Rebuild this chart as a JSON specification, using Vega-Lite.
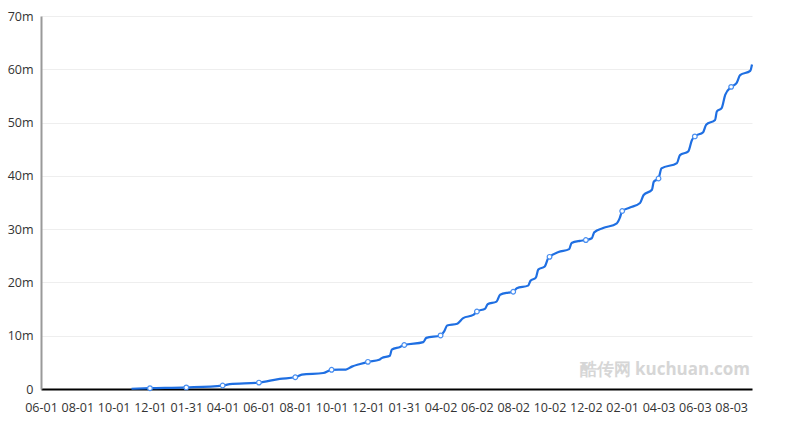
{
  "$schema": "https://vega.github.io/schema/vega-lite/v6.json",
  "autosize": {"type": "none"},
  "width": 711,
  "height": 373,
  "padding": {"left": 41, "top": 16, "right": 49, "bottom": 45},
  "background": "white",
  "config": {"view": {"stroke": null}},
  "datasets": {
    "series": [
      {"date": "2015-10-31", "downloads": 50000},
      {"date": "2015-12-01", "downloads": 150000},
      {"date": "2016-01-31", "downloads": 300000},
      {"date": "2016-04-01", "downloads": 650000},
      {"date": "2016-04-13", "downloads": 900000},
      {"date": "2016-06-01", "downloads": 1200000},
      {"date": "2016-07-06", "downloads": 1900000},
      {"date": "2016-08-01", "downloads": 2200000},
      {"date": "2016-08-12", "downloads": 2700000},
      {"date": "2016-09-17", "downloads": 3000000},
      {"date": "2016-10-01", "downloads": 3600000},
      {"date": "2016-10-25", "downloads": 3650000},
      {"date": "2016-11-04", "downloads": 4200000},
      {"date": "2016-11-18", "downloads": 4700000},
      {"date": "2016-12-01", "downloads": 5100000},
      {"date": "2016-12-20", "downloads": 5500000},
      {"date": "2016-12-24", "downloads": 5800000},
      {"date": "2017-01-07", "downloads": 6250000},
      {"date": "2017-01-10", "downloads": 7400000},
      {"date": "2017-01-24", "downloads": 7900000},
      {"date": "2017-01-31", "downloads": 8250000},
      {"date": "2017-03-04", "downloads": 8800000},
      {"date": "2017-03-09", "downloads": 9600000},
      {"date": "2017-04-02", "downloads": 10050000},
      {"date": "2017-04-08", "downloads": 10800000},
      {"date": "2017-04-13", "downloads": 11900000},
      {"date": "2017-04-30", "downloads": 12250000},
      {"date": "2017-05-10", "downloads": 13300000},
      {"date": "2017-05-27", "downloads": 13900000},
      {"date": "2017-06-02", "downloads": 14550000},
      {"date": "2017-06-16", "downloads": 15100000},
      {"date": "2017-06-20", "downloads": 15900000},
      {"date": "2017-07-05", "downloads": 16400000},
      {"date": "2017-07-11", "downloads": 17700000},
      {"date": "2017-07-25", "downloads": 18100000},
      {"date": "2017-08-02", "downloads": 18250000},
      {"date": "2017-08-08", "downloads": 18900000},
      {"date": "2017-08-27", "downloads": 19400000},
      {"date": "2017-08-31", "downloads": 20300000},
      {"date": "2017-09-09", "downloads": 20900000},
      {"date": "2017-09-13", "downloads": 22400000},
      {"date": "2017-09-24", "downloads": 23000000},
      {"date": "2017-09-30", "downloads": 24600000},
      {"date": "2017-10-02", "downloads": 24800000},
      {"date": "2017-10-17", "downloads": 25700000},
      {"date": "2017-11-04", "downloads": 26250000},
      {"date": "2017-11-08", "downloads": 27400000},
      {"date": "2017-11-22", "downloads": 27800000},
      {"date": "2017-12-02", "downloads": 27950000},
      {"date": "2017-12-12", "downloads": 28300000},
      {"date": "2017-12-16", "downloads": 29400000},
      {"date": "2017-12-31", "downloads": 30200000},
      {"date": "2018-01-23", "downloads": 31100000},
      {"date": "2018-01-28", "downloads": 32100000},
      {"date": "2018-02-01", "downloads": 33400000},
      {"date": "2018-02-14", "downloads": 34050000},
      {"date": "2018-03-03", "downloads": 34900000},
      {"date": "2018-03-09", "downloads": 36400000},
      {"date": "2018-03-23", "downloads": 37400000},
      {"date": "2018-03-26", "downloads": 38900000},
      {"date": "2018-04-03", "downloads": 39500000},
      {"date": "2018-04-08", "downloads": 41400000},
      {"date": "2018-05-04", "downloads": 42400000},
      {"date": "2018-05-09", "downloads": 43900000},
      {"date": "2018-05-23", "downloads": 44600000},
      {"date": "2018-05-29", "downloads": 46700000},
      {"date": "2018-06-03", "downloads": 47400000},
      {"date": "2018-06-17", "downloads": 48200000},
      {"date": "2018-06-22", "downloads": 49600000},
      {"date": "2018-07-07", "downloads": 50500000},
      {"date": "2018-07-10", "downloads": 52100000},
      {"date": "2018-07-18", "downloads": 52700000},
      {"date": "2018-07-24", "downloads": 55200000},
      {"date": "2018-08-03", "downloads": 56700000},
      {"date": "2018-08-12", "downloads": 57400000},
      {"date": "2018-08-18", "downloads": 58900000},
      {"date": "2018-09-04", "downloads": 59700000},
      {"date": "2018-09-07", "downloads": 60900000}
    ],
    "markers": [
      {"date": "2015-12-01", "downloads": 150000},
      {"date": "2016-01-31", "downloads": 300000},
      {"date": "2016-04-01", "downloads": 650000},
      {"date": "2016-06-01", "downloads": 1200000},
      {"date": "2016-08-01", "downloads": 2200000},
      {"date": "2016-10-01", "downloads": 3600000},
      {"date": "2016-12-01", "downloads": 5100000},
      {"date": "2017-01-31", "downloads": 8250000},
      {"date": "2017-04-02", "downloads": 10050000},
      {"date": "2017-06-02", "downloads": 14550000},
      {"date": "2017-08-02", "downloads": 18250000},
      {"date": "2017-10-02", "downloads": 24800000},
      {"date": "2017-12-02", "downloads": 27950000},
      {"date": "2018-02-01", "downloads": 33400000},
      {"date": "2018-04-03", "downloads": 39500000},
      {"date": "2018-06-03", "downloads": 47400000},
      {"date": "2018-08-03", "downloads": 56700000}
    ]
  },
  "encoding": {
    "x": {
      "field": "date",
      "type": "temporal",
      "scale": {"type": "utc", "domain": [{"year": 2015, "month": 6, "date": 1, "utc": true}, {"year": 2018, "month": 9, "date": 7, "utc": true}]},
      "axis": {
        "title": null,
        "values": [
          {"year": 2015, "month": 6, "date": 1, "utc": true},
          {"year": 2015, "month": 8, "date": 1, "utc": true},
          {"year": 2015, "month": 10, "date": 1, "utc": true},
          {"year": 2015, "month": 12, "date": 1, "utc": true},
          {"year": 2016, "month": 1, "date": 31, "utc": true},
          {"year": 2016, "month": 4, "date": 1, "utc": true},
          {"year": 2016, "month": 6, "date": 1, "utc": true},
          {"year": 2016, "month": 8, "date": 1, "utc": true},
          {"year": 2016, "month": 10, "date": 1, "utc": true},
          {"year": 2016, "month": 12, "date": 1, "utc": true},
          {"year": 2017, "month": 1, "date": 31, "utc": true},
          {"year": 2017, "month": 4, "date": 2, "utc": true},
          {"year": 2017, "month": 6, "date": 2, "utc": true},
          {"year": 2017, "month": 8, "date": 2, "utc": true},
          {"year": 2017, "month": 10, "date": 2, "utc": true},
          {"year": 2017, "month": 12, "date": 2, "utc": true},
          {"year": 2018, "month": 2, "date": 1, "utc": true},
          {"year": 2018, "month": 4, "date": 3, "utc": true},
          {"year": 2018, "month": 6, "date": 3, "utc": true},
          {"year": 2018, "month": 8, "date": 3, "utc": true}
        ],
        "labelExpr": "utcFormat(datum.value, '%m-%d')",
        "labelOverlap": false,
        "labelFlush": false,
        "labelFont": "Open Sans",
        "labelFontSize": 12.5,
        "labelColor": "#333333",
        "labelPadding": 12,
        "ticks": false,
        "grid": false,
        "domainColor": "#000000",
        "domainWidth": 2
      }
    },
    "y": {
      "field": "downloads",
      "type": "quantitative",
      "scale": {"domain": [0, 70000000], "nice": false},
      "axis": {
        "title": null,
        "values": [0, 10000000, 20000000, 30000000, 40000000, 50000000, 60000000, 70000000],
        "labelExpr": "datum.value == 0 ? '0' : (datum.value / 1000000) + 'm'",
        "labelFont": "Open Sans",
        "labelFontSize": 12.5,
        "labelColor": "#333333",
        "labelPadding": 8,
        "ticks": false,
        "grid": true,
        "gridColor": "#eeeeee",
        "gridWidth": 1,
        "domainColor": "#999999",
        "domainWidth": 2
      }
    }
  },
  "layer": [
    {
      "data": {"name": "series"},
      "mark": {"type": "line", "color": "#1f6fe2", "strokeWidth": 2.2, "interpolate": "monotone"}
    },
    {
      "data": {"name": "markers"},
      "mark": {"type": "point", "shape": "circle", "filled": true, "fill": "white", "stroke": "#4a8ff0", "strokeWidth": 1.2, "size": 22, "opacity": 1}
    },
    {
      "data": {"values": [{"label": "酷传网 kuchuan.com", "date": "2018-09-07", "downloads": 3600000}]},
      "mark": {"type": "text", "align": "right", "baseline": "middle", "font": "Open Sans", "fontSize": 17, "fontWeight": "bold", "color": "#d6d6d6", "dx": -2},
      "encoding": {
        "text": {"field": "label"}
      }
    }
  ]
}
